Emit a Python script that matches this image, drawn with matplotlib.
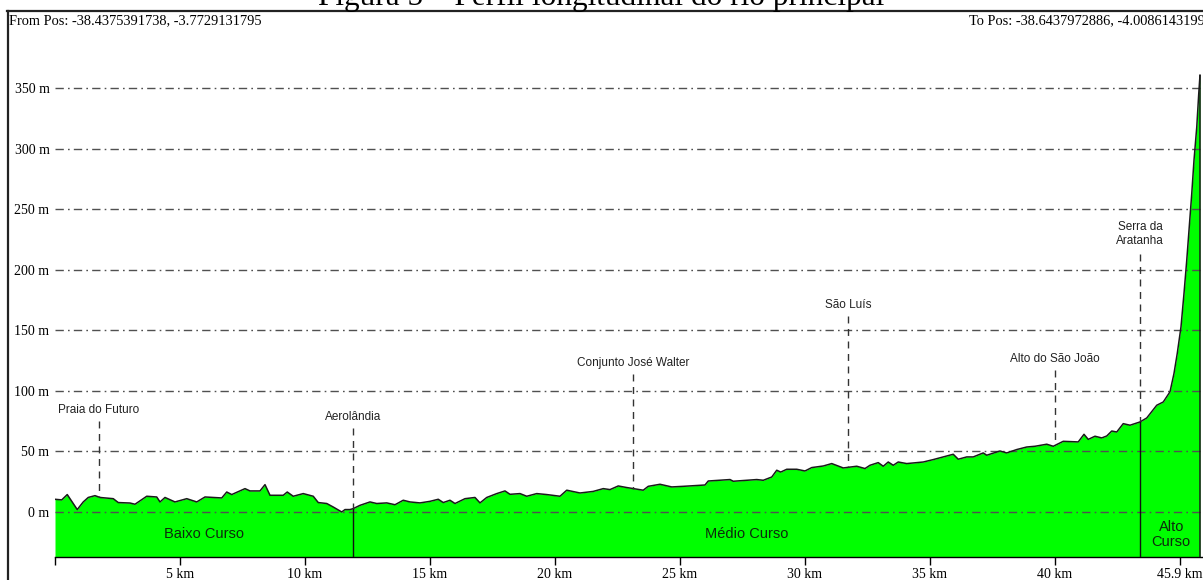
import matplotlib
matplotlib.use('Agg')
import matplotlib.pyplot as plt
import numpy as np
from matplotlib.lines import Line2D

''' - - - - - Data read from the profile - - - - - - - - - - - - - - - - - '''

# Distance along the river [km] and terrain elevation [m]
distance_km = [
    0.0, 0.27, 0.49, 0.89, 1.13, 1.33, 1.6, 1.8, 2.33, 2.53, 3.0, 3.2, 3.67,
    4.07, 4.2, 4.4, 4.8, 5.27, 5.67, 6.0, 6.33, 6.67, 6.87, 7.07, 7.6, 7.8,
    8.2, 8.4, 8.6, 9.13, 9.29, 9.53, 9.93, 10.33, 10.53, 10.87, 11.13, 11.47,
    11.6, 11.8, 11.93, 12.2, 12.6, 12.87, 13.27, 13.6, 13.93, 14.2, 14.6,
    15.0, 15.33, 15.53, 15.8, 16.0, 16.4, 16.8, 17.0, 17.27, 17.67, 18.0,
    18.2, 18.6, 18.87, 19.27, 19.67, 20.2, 20.47, 21.0, 21.53, 21.93, 22.2,
    22.53, 22.87, 23.53, 23.73, 24.2, 24.67, 25.13, 26.0, 26.13, 27.0, 27.13,
    28.07, 28.33, 28.67, 28.87, 29.03, 29.27, 29.67, 30.0, 30.27, 30.73,
    31.07, 31.53, 32.07, 32.4, 32.6, 32.93, 33.13, 33.33, 33.53, 33.73,
    34.07, 34.47, 34.73, 35.13, 35.93, 36.13, 36.47, 36.73, 37.13, 37.27,
    37.8, 38.07, 38.47, 38.87, 39.2, 39.67, 39.93, 40.33, 40.93, 41.16,
    41.33, 41.6, 41.87, 42.07, 42.27, 42.47, 42.73, 43.0, 43.4, 43.67, 44.07,
    44.33, 44.6, 44.76, 44.89, 45.04, 45.16, 45.27, 45.37, 45.47, 45.56,
    45.67, 45.75, 45.8
]
elevation_m = [
    10.5, 10, 14.4, 2, 8.3, 12, 13.5, 12, 11, 7.8, 7.4, 6.4, 13,
    12.4, 8.3, 12, 8.3, 11, 8.3, 12.4, 12, 11.6, 16.5, 14.4, 19.3, 17.4,
    17.4, 22.6, 13.8, 13.8, 16.5, 13, 15.2, 13, 7.8, 7, 4.1, 0,
    2, 2, 2.8, 5.5, 8.3, 7, 7.5, 6, 9.7, 8.3, 7.5,
    8.8, 10.5, 7.8, 9.7, 7, 11, 12, 7.5, 12, 15.2, 17.4,
    14.6, 15.2, 13, 15.2, 14.4, 13, 18, 15.7, 17, 19.3, 18.5,
    21.5, 20.2, 18, 21.2, 22.9, 20.7, 21.2, 22.3, 25.6, 26.8, 25.4,
    26.8, 26.2, 28.9, 34.5, 33, 35.3, 35.3, 33.9, 36.7, 38,
    40, 36.4, 37.8, 35.9, 38.6, 40.8, 37.8, 41.3, 38.6, 41.3,
    40, 40.8, 41.3, 43.3, 47.7, 43.6, 45.5, 45.5, 48.8, 46.9,
    50.4, 48.8, 51.6, 53.7, 54.3, 56, 54.3, 58.4, 57.9, 64.2,
    60, 62.6, 61.2, 62.8, 66.9, 66.1, 73, 71.7, 74.4, 77.7, 88.2,
    90.9, 99.3, 114.5, 131, 153, 180.6, 208, 235.8, 263, 290.7,
    318, 345.8, 361
]

# Places along the river
place_names = ['Praia do Futuro', 'Aerolândia', 'Conjunto José Walter',
               'São Luís', 'Alto do São João', 'Serra da\nAratanha']
place_km = [1.76, 11.92, 23.12, 31.72, 40.0, 43.4]
place_label_m = [84, 78.5, 123, 171, 126.5, 230]

# River sections
section_names = ['Baixo Curso', 'Médio Curso', 'Alto\nCurso']
section_limits_km = [0.0, 11.92, 43.4, 45.9]

# Axis ticks
x_ticks = [0, 5, 10, 15, 20, 25, 30, 35, 40, 45]
x_tick_labels = ['', '5 km', '10 km', '15 km', '20 km', '25 km', '30 km',
                 '35 km', '40 km', '45.9 km']
y_ticks = [0, 50, 100, 150, 200, 250, 300, 350]

from_pos = 'From Pos: -38.4375391738, -3.7729131795'
to_pos = 'To Pos: -38.6437972886, -4.0086143199'
title = 'Figura 5 – Perfil longitudinal do rio principal'

''' - - - - - Figure - - - - - - - - - - - - - - - - - - - - - - - - - - '''

serif = 'Liberation Serif'
sans = 'Liberation Sans'

fig_w_px = 1203
fig_h_px = 580
fig = plt.figure(figsize=(fig_w_px / 100, fig_h_px / 100), dpi=100)

# Axis placed in pixels: x 55 -> 1203, y 11 -> 557
ax = fig.add_axes([55 / fig_w_px, (fig_h_px - 557) / fig_h_px,
                   (fig_w_px - 55) / fig_w_px, (557 - 11) / fig_h_px])

y_bottom = -37.2
ax.set_xlim(0, 45.92)
ax.set_ylim(y_bottom, 414)

# Terrain
ax.fill_between(distance_km, elevation_m, y_bottom, color='#00ff00',
                linewidth=0, zorder=1)
ax.plot(distance_km, elevation_m, color='#1a1a1a', linewidth=1.1, zorder=3)
ax.vlines(distance_km[-1], y_bottom, elevation_m[-1], color='#1a1a1a',
          linewidth=1.1, zorder=3)

# Grid lines (dash-dot)
for y in y_ticks:
    ax.axhline(y, color='#505050', linewidth=1,
               linestyle=(0, (6, 3, 1.2, 3)), zorder=2)

# Place markers: dashed line from label down to the profile
for name, km, label_m in zip(place_names, place_km, place_label_m):
    ground = np.interp(km, distance_km, elevation_m)
    ax.text(km, label_m, name, family=sans, fontsize=8.5, color='#222222',
            ha='center', va='center', linespacing=1.25)
    n_lines = name.count('\n') + 1
    top = label_m - 8 * n_lines - 1
    ax.plot([km, km], [top, ground], color='#333333', linewidth=1,
            linestyle=(0, (5, 4)), zorder=4)

# Section limits: solid line from the profile down to the bottom
for km in section_limits_km[1:-1]:
    ground = np.interp(km, distance_km, elevation_m)
    ax.plot([km, km], [y_bottom, ground], color='#111111', linewidth=1,
            zorder=4)

# Section names
for i, name in enumerate(section_names):
    mid = (section_limits_km[i] + section_limits_km[i + 1]) / 2
    ax.text(mid, -18.5, name, family=sans, fontsize=10.5, color='#0d2a0d',
            ha='center', va='center', linespacing=1.05, zorder=5)

# Axes styling
for side in ['top', 'right', 'left']:
    ax.spines[side].set_visible(False)
ax.spines['bottom'].set_color('black')
ax.spines['bottom'].set_linewidth(1)

ax.set_xticks(x_ticks)
ax.set_xticklabels(x_tick_labels, family=serif, fontsize=10)
ax.tick_params(axis='x', direction='out', length=6, width=1, pad=2)

ax.set_yticks(y_ticks)
ax.set_yticklabels([f'{y} m' for y in y_ticks], family=serif, fontsize=10)
ax.tick_params(axis='y', length=0, pad=4)

# Frame and header texts
fig.add_artist(Line2D([7 / fig_w_px, 1], [1 - 11 / fig_h_px] * 2,
                      color='#222222', linewidth=1.6))
fig.add_artist(Line2D([8 / fig_w_px] * 2, [0, 1 - 11 / fig_h_px],
                      color='#222222', linewidth=1.6))
fig.text(9 / fig_w_px, 1 - 21 / fig_h_px, from_pos, family=serif,
         fontsize=10.4, ha='left', va='center')
fig.text(969 / fig_w_px, 1 - 21 / fig_h_px, to_pos, family=serif,
         fontsize=10.4, ha='left', va='center')
fig.text(601 / fig_w_px, 1 - 5 / fig_h_px, title, family=serif,
         fontsize=22.5, ha='center', va='baseline')

plt.savefig('out.png', dpi=100)
